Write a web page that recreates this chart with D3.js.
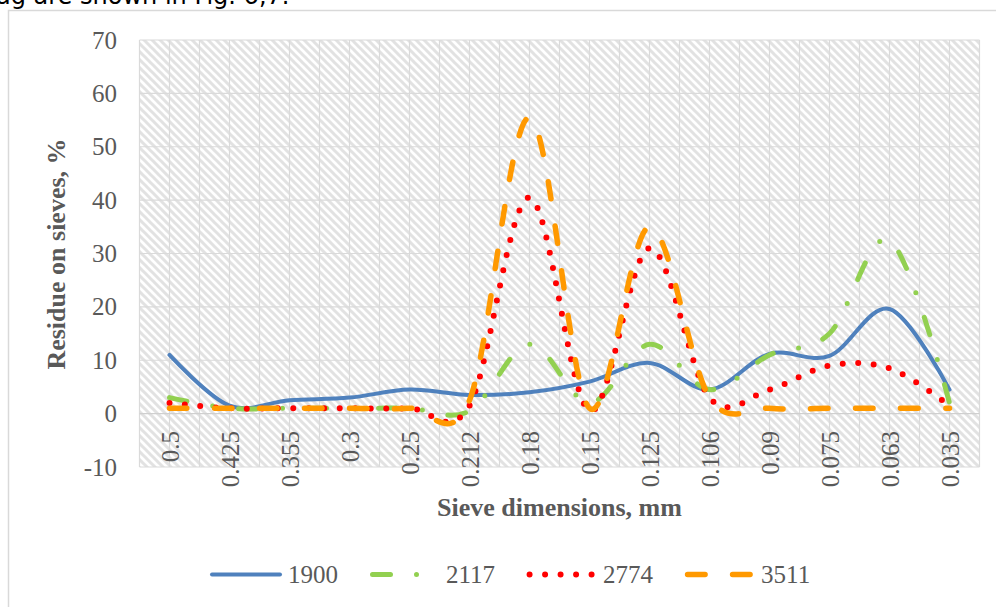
<!DOCTYPE html>
<html>
<head>
<meta charset="utf-8">
<script src="https://cdn.jsdelivr.net/npm/d3@7"></script>
<style>
  body { margin: 0; background: #fff; overflow: hidden; }
  text { font-family: "Liberation Serif", "Times New Roman", serif; }
</style>
</head>
<body>
<div id="chart"></div>
<script>
var width = 996;
var height = 607;

// sieve sizes, mm
var categories = ["0.5", "0.425", "0.355", "0.3", "0.25", "0.212", "0.18", "0.15", "0.125", "0.106", "0.09", "0.075", "0.063", "0.035"];

// residue on sieves, %
var s1900 = [11, 1.5, 2.5, 3, 4.5, 3.5, 4, 6, 9.5, 4.5, 11.2, 10.8, 19.6, 4.5];
var s2117 = [3, 1, 1, 1, 1, 0.5, 13, 2, 13, 4.5, 11, 15, 32.5, 2];
var s2774 = [2, 1, 1, 1, 1, 1.5, 40.5, 0.5, 31, 3, 4.5, 9, 8.5, 1.5];
var s3511 = [1, 1, 1, 1, 1, 2.5, 55.5, 1, 35, 3, 1, 1, 1, 1];

var yTicks = [-10, 0, 10, 20, 30, 40, 50, 60, 70];

var series = [
    { name: "1900", values: s1900, color: "#4f81bd", width: 4, dash: null },
    { name: "2117", values: s2117, color: "#92d050", width: 5, dash: "18,26,0,26" },
    { name: "2774", values: s2774, color: "#ff0000", width: 6, dash: "0,15.5" },
    { name: "3511", values: s3511, color: "#ff9900", width: 5.5, dash: "17.5,27.5" }
];

var svg = d3.select("#chart").append("svg")
    .attr("width", width)
    .attr("height", height);

// bit of the document text above the chart
svg.append("text")
    .attr("x", -4)
    .attr("y", 4)
    .style("font-family", "'DejaVu Sans', Verdana, sans-serif")
    .style("font-size", "24px")
    .attr("fill", "#000")
    .text("ag are shown in Fig. 6,7.");

// chart frame
svg.append("path")
    .attr("d", "M8.5," + height + "V10.5H" + width)
    .attr("fill", "none")
    .attr("stroke", "#d9d9d9")
    .attr("stroke-width", 1.5);

var x = d3.scaleBand()
    .domain(categories)
    .range([139.5, 979.5]);

var y = d3.scaleLinear()
    .domain([-10, 70])
    .range([467, 40]);

var defs = svg.append("defs");
var pat = defs.append("pattern")
    .attr("id", "hatch")
    .attr("patternUnits", "userSpaceOnUse")
    .attr("width", 8)
    .attr("height", 8);
pat.append("rect").attr("width", 8).attr("height", 8).attr("fill", "#fff");
pat.append("path")
    .attr("d", "M-2,-2L10,10M-2,6L2,10M6,-2L10,2")
    .attr("stroke", "#e2e2e2")
    .attr("stroke-width", 3);

var plot = svg.append("g");

plot.append("rect")
    .attr("x", x.range()[0])
    .attr("y", y(70))
    .attr("width", x.range()[1] - x.range()[0])
    .attr("height", y(-10) - y(70))
    .attr("fill", "url(#hatch)");

// vertical grid: category edges and centers
var vGrid = [];
categories.forEach(function (c) {
    vGrid.push(x(c));
    vGrid.push(x(c) + x.bandwidth() / 2);
});
vGrid.push(x.range()[1]);

plot.selectAll(".vgrid")
    .data(vGrid)
    .enter().append("line")
    .attr("x1", function (d) { return d; })
    .attr("x2", function (d) { return d; })
    .attr("y1", y(70))
    .attr("y2", y(-10))
    .attr("stroke", "#dadada")
    .attr("stroke-width", 1.2);

plot.selectAll(".hgrid")
    .data(yTicks)
    .enter().append("line")
    .attr("x1", x.range()[0])
    .attr("x2", x.range()[1])
    .attr("y1", function (d) { return y(d); })
    .attr("y2", function (d) { return y(d); })
    .attr("stroke", function (d) { return d === 0 ? "#cfcfcf" : "#dadada"; })
    .attr("stroke-width", 1.2);

// y axis labels
svg.selectAll(".ytick")
    .data(yTicks)
    .enter().append("text")
    .attr("x", 117)
    .attr("y", function (d) { return y(d); })
    .attr("dy", "0.34em")
    .attr("text-anchor", "end")
    .attr("fill", "#595959")
    .style("font-size", "25px")
    .text(function (d) { return d; });

// x axis labels, rotated, hanging under the zero line
svg.selectAll(".xtick")
    .data(categories)
    .enter().append("text")
    .attr("transform", function (d) {
        return "translate(" + (x(d) + x.bandwidth() / 2 + 9) + ",431) rotate(-90)";
    })
    .attr("text-anchor", "end")
    .attr("fill", "#595959")
    .style("font-size", "25px")
    .text(function (d) { return d; });

// axis titles
svg.append("text")
    .attr("transform", "translate(65,254) rotate(-90)")
    .attr("text-anchor", "middle")
    .attr("fill", "#595959")
    .style("font-size", "26px")
    .style("font-weight", "bold")
    .text("Residue on sieves, %");

svg.append("text")
    .attr("x", 559.5)
    .attr("y", 516)
    .attr("text-anchor", "middle")
    .attr("fill", "#595959")
    .style("font-size", "26px")
    .style("font-weight", "bold")
    .text("Sieve dimensions, mm");

// smoothed lines
var line = d3.line()
    .x(function (d, i) { return x(categories[i]) + x.bandwidth() / 2; })
    .y(function (d) { return y(d); })
    .curve(d3.curveCardinal.tension(0));

series.forEach(function (s) {
    plot.append("path")
        .datum(s.values)
        .attr("d", line)
        .attr("fill", "none")
        .attr("stroke", s.color)
        .attr("stroke-width", s.width)
        .attr("stroke-linecap", "round")
        .attr("stroke-linejoin", "round")
        .attr("stroke-dasharray", s.dash);
});

// legend
var legend = svg.append("g");
var lx = 212;
series.forEach(function (s) {
    legend.append("line")
        .attr("x1", lx + (s.dash ? 2.5 : 0))
        .attr("x2", lx + 68)
        .attr("y1", 574.5)
        .attr("y2", 574.5)
        .attr("stroke", s.color)
        .attr("stroke-width", s.width)
        .attr("stroke-linecap", "round")
        .attr("stroke-dasharray", s.dash);
    var t = legend.append("text")
        .attr("x", lx + 76)
        .attr("y", 574.5)
        .attr("dy", "0.34em")
        .attr("fill", "#595959")
        .style("font-size", "25px")
        .text(s.name);
    lx += 76 + t.node().getComputedTextLength() + 32;
});
</script>
</body>
</html>
